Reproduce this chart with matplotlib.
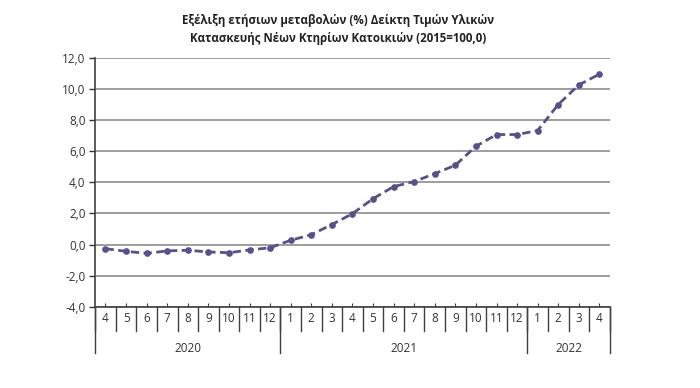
import matplotlib.pyplot as plt
from matplotlib.ticker import FuncFormatter

plt.rcParams.update({
    "font.family": ["Open Sans", "DejaVu Sans"],
})

month_labels = ["4", "5", "6", "7", "8", "9", "10", "11", "12",
                "1", "2", "3", "4", "5", "6", "7", "8", "9", "10", "11", "12",
                "1", "2", "3", "4"]
year_labels = ["2020", "2021", "2022"]
year_counts = [9, 12, 4]
values = [-0.26, -0.43, -0.56, -0.40, -0.36, -0.47, -0.52, -0.34, -0.20,
          0.28, 0.64, 1.29, 1.99, 2.95, 3.73, 4.05, 4.56, 5.10, 6.32, 7.07, 7.07,
          7.33, 9.00, 10.26, 10.95]

title = "Εξέλιξη ετήσιων μεταβολών (%) Δείκτη Τιμών Υλικών\nΚατασκευής Νέων Κτηρίων Κατοικιών (2015=100,0)"

text_color = "#333333"
line_color = "#5a4f8c"

fig = plt.figure(figsize=(7, 3.88), dpi=100)
ax = fig.add_axes([0.136, 0.209, 0.735, 0.642])

x = list(range(len(values)))
ax.plot(x, values, color=line_color, lw=2.0, ls=(0, (3, 1.6)),
        marker='o', markersize=3.8, markerfacecolor=line_color,
        markeredgecolor=line_color, zorder=3)

ax.set_xlim(-0.5, len(values) - 0.5)
ax.set_ylim(-4, 12)
ax.set_yticks(range(-4, 13, 2))
ax.yaxis.set_major_formatter(FuncFormatter(lambda v, p: f"{v:.1f}".replace(".", ",")))
ax.grid(True, axis='y', color='#8c8c8c', lw=1.2, zorder=0)
ax.set_axisbelow(True)

for s in ['top', 'right']:
    ax.spines[s].set_visible(False)
ax.spines['left'].set_color('#404040')
ax.spines['bottom'].set_color('#404040')
ax.spines['left'].set_linewidth(1.2)
ax.spines['bottom'].set_linewidth(1.2)

ax.tick_params(axis='y', labelsize=8.5, colors=text_color, length=4, width=1, pad=3)
ax.set_xticks(x)
ax.tick_params(axis='x', direction='in', length=3, width=0.8, color='#404040', labelbottom=False)

trans = ax.get_xaxis_transform()
# category boundaries
for i in range(len(values) + 1):
    ax.plot([i - 0.5, i - 0.5], [0, -0.095], transform=trans, color='#404040',
            lw=1.0, clip_on=False)
# month labels
for i, lab in enumerate(month_labels):
    ax.text(i, -0.045, lab, transform=trans, ha='center', va='center',
            fontsize=8.5, color=text_color)
# year groups
start = 0
bounds = [-0.5]
for lab, n in zip(year_labels, year_counts):
    ax.text(start + (n - 1) / 2, -0.165, lab, transform=trans, ha='center',
            va='center', fontsize=8.5, color=text_color)
    start += n
    bounds.append(start - 0.5)
for b in bounds:
    ax.plot([b, b], [0, -0.185], transform=trans, color='#404040', lw=1.0,
            clip_on=False)

fig.text(0.483, 0.925, title, ha='center', va='center', fontsize=8.3,
         fontweight='bold', color='#222222', linespacing=1.5)

plt.savefig("out.png", dpi=100)
